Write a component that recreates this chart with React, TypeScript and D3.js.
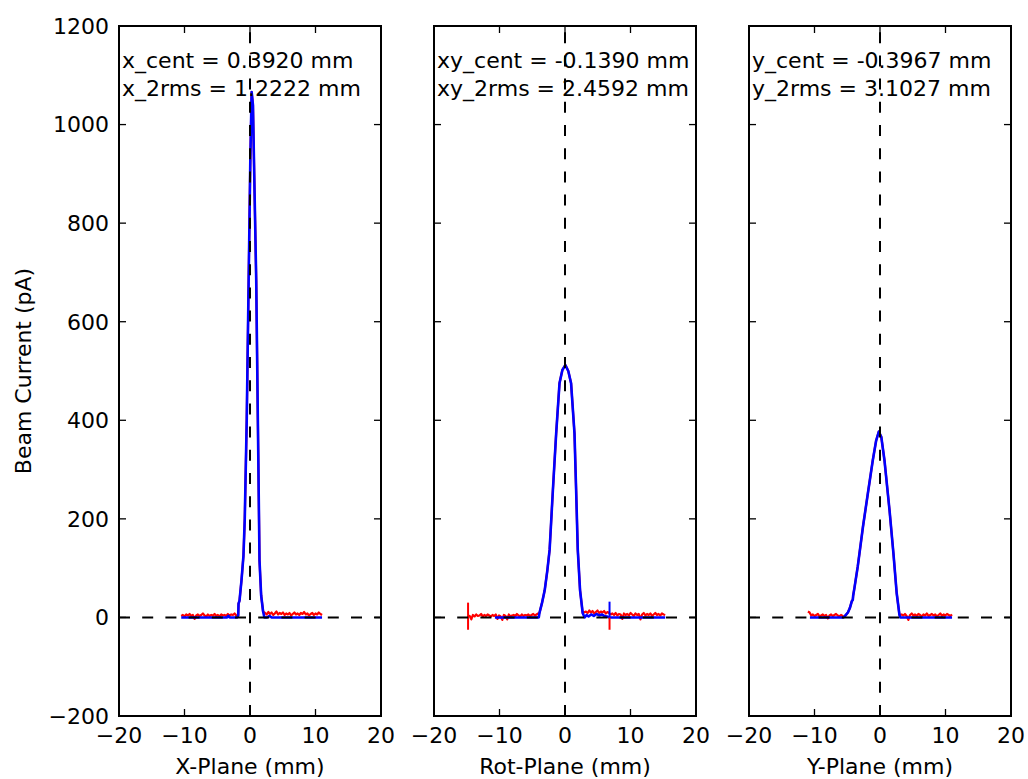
import React from "react";
import * as d3 from "d3";

// ---- tick values & labels ----
const xTicks = [-20, -10, 0, 10, 20];
const yTicks = [-200, 0, 200, 400, 600, 800, 1000, 1200];
const planeLabels = ["X-Plane (mm)", "Rot-Plane (mm)", "Y-Plane (mm)"];
const centLabels = ["x_cent = 0.3920 mm", "xy_cent = -0.1390 mm", "y_cent = -0.3967 mm"];
const rmsLabels = ["x_2rms = 1.2222 mm", "xy_2rms = 2.4592 mm", "y_2rms = 3.1027 mm"];
const yAxisLabel = "Beam Current (pA)";

// ---- X-plane ----
const xPeak: [number, number][] = [
  [-2.0, 0], [-1.8, 4], [-1.75, 28], [-1.6, 34], [-1.45, 55], [-1.3, 75], [-1.15, 100],
  [-1.0, 125], [-0.8, 200], [-0.5, 400], [-0.2, 690], [0.05, 930], [0.25, 1066],
  [0.45, 1040], [0.7, 860], [0.95, 684], [1.2, 400], [1.45, 116], [1.7, 45], [2.0, 12], [2.2, 0],
];
const xNoiseLeft = { from: -10.5, to: -2.1, values: [3, 5, 2, 6, 4, 7, 3, 5, -3, 4, 6, 3, 5, 8, 4, 2, 6, 3, 5, 4, 7, 3, 5, 2, 6, 4, 5, 3, 7, 4, 6, 5, 8, 4] };
const xNoiseRight = { from: 2.3, to: 11, values: [9, 6, 11, 7, 10, 5, 8, 12, 6, 9, 7, 10, 5, 8, 6, 9, 4, 7, 10, 6, 8, 5, 9, 7, 11, 6, 8, 4, 7, 9, 5, 8, 6, 10, 7, 5] };
const xBlueLeft: [number, number][] = [[-10.5, 0], [-3.5, 0], [-3.3, 3], [-3.1, 0]];
const xBlueRight: [number, number][] = [[2.6, 0], [3.0, 3], [3.3, 0], [11, 0]];

// ---- Rot-plane ----
const rotPeak: [number, number][] = [
  [-4.0, 0], [-3.9, 9], [-3.5, 30], [-3.1, 55], [-2.7, 95], [-2.35, 137], [-1.85, 258],
  [-1.35, 373], [-0.84, 475], [-0.4, 502], [0.05, 512], [0.5, 500], [0.93, 475],
  [1.45, 373], [1.7, 258], [1.95, 137], [2.3, 55], [2.7, 9], [3.0, 0],
];
const rotNoiseLeft = { from: -14.8, to: -4.1, values: [4, 3, -4, 5, 2, 6, 3, 4, 7, 2, 5, 3, 6, 4, 2, 5, 3, 6, -3, 4, 2, -5, 5, 3, -4, 6, 2, 4, 5, 3, 7, 4, 2, 6, 3, 5, 4, 6, 3, 5, 7, 4, 6, 8] };
const rotNoiseRight = { from: 3.2, to: 15.3, values: [12, 9, 14, 10, 13, 8, 11, 14, 9, 12, 10, 13, 8, 11, 9, 6, 8, 5, 9, 4, 7, 6, -3, 8, 5, 7, 4, 9, 6, 3, 8, 5, 7, -4, 6, 9, 4, 7, 5, 8, 3, 6, 9, 5, 7, 4, 8, 6, 5] };
const rotBlueLeft: [number, number][] = [[-10.7, 0]];
const rotBlueRight: [number, number][] = [
  [3.3, 5], [3.6, 2], [4.0, 6], [4.4, 3], [4.8, 7], [5.2, 4], [5.6, 6], [6.0, 3], [6.4, 2], [6.7, 0], [15.3, 0],
];
const rotSpikes = [
  { x: -14.8, top: 30, bottom: -25, color: "red" },
  { x: 6.8, top: 0, bottom: -25, color: "red" },
  { x: 6.8, top: 32, bottom: 0, color: "blue" },
];

// ---- Y-plane ----
const yPeak: [number, number][] = [
  [-5.6, 0], [-5.4, 2], [-4.9, 10], [-4.6, 19], [-4.3, 33], [-4.15, 36], [-4.1, 44], [-3.9, 60],
  [-3.4, 103], [-2.6, 184], [-1.85, 252], [-1.1, 319], [-0.6, 358], [-0.18, 377], [0.2, 366],
  [0.68, 319], [1.45, 218], [2.05, 130], [2.55, 49], [2.97, 5], [3.1, 0],
];
const yNoiseLeft = { from: -11, to: -5.7, values: [12, 10, 4, 6, 3, 5, 7, 2, 4, 6, 3, 5, -2, 4, 6, 3, 5, 7, 4, 2, 5, 3] };
const yNoiseRight = { from: 3.3, to: 11, values: [6, 4, 7, 3, -5, 5, 8, 4, 6, 3, 7, 5, 2, 6, 4, 8, 3, 5, 7, 4, 6, 2, 5, 8, 3, 6, 4, 7, 5, 3, 6] };
const yBlueLeft: [number, number][] = [[-10.7, 0]];
const yBlueRight: [number, number][] = [[11, 0]];

type Noise = { from: number; to: number; values: number[] };
const noisePts = (n: Noise): [number, number][] =>
  n.values.map((v, i) => [n.from + ((n.to - n.from) * i) / (n.values.length - 1), v]);

const panels = [
  { peak: xPeak, nl: xNoiseLeft, nr: xNoiseRight, bl: xBlueLeft, br: xBlueRight, spikes: [] as typeof rotSpikes },
  { peak: rotPeak, nl: rotNoiseLeft, nr: rotNoiseRight, bl: rotBlueLeft, br: rotBlueRight, spikes: rotSpikes },
  { peak: yPeak, nl: yNoiseLeft, nr: yNoiseRight, bl: yBlueLeft, br: yBlueRight, spikes: [] as typeof rotSpikes },
];

const W = 1028;
const H = 779;
const TOP = 26;
const BOTTOM = 716;
const PW = 262;
const LEFTS = [119, 434, 749];
const FONT = "DejaVu Sans";
const FS = 22;
const TICK = 7;

const y = d3.scaleLinear().domain([-200, 1200]).range([BOTTOM, TOP]);

function Panel({ i }: { i: number }) {
  const p = panels[i];
  const left = LEFTS[i];
  const x = d3.scaleLinear().domain([-20, 20]).range([left, left + PW]);
  const line = d3.line<[number, number]>().x((d) => x(d[0])).y((d) => y(d[1]));
  const red = [...noisePts(p.nl), ...p.peak.slice(1, -1), ...noisePts(p.nr)];
  const blue = [...p.bl, ...p.peak, ...p.br];
  const clipId = `clip${i}`;
  return (
    <g>
      <defs>
        <clipPath id={clipId}>
          <rect x={left} y={TOP} width={PW} height={BOTTOM - TOP} />
        </clipPath>
      </defs>
      <g clipPath={`url(#${clipId})`}>
        <path d={line(red) || ""} fill="none" stroke="#ff0000" strokeWidth={2.2} strokeLinejoin="round" />
        <path d={line(blue) || ""} fill="none" stroke="#0000ff" strokeWidth={2.6} strokeLinejoin="round" />
        {p.spikes.map((s, k) => (
          <line key={k} x1={x(s.x)} x2={x(s.x)} y1={y(s.top)} y2={y(s.bottom)} stroke={s.color === "red" ? "#ff0000" : "#0000ff"} strokeWidth={2} />
        ))}
        <line x1={x(0)} x2={x(0)} y1={BOTTOM} y2={TOP} stroke="black" strokeWidth={2} strokeDasharray="11,12.2" />
        <line x1={left} x2={left + PW} y1={y(0)} y2={y(0)} stroke="black" strokeWidth={2} strokeDasharray="11,12.2" />
      </g>
      {/* ticks */}
      {xTicks.map((t) => (
        <g key={`xt${t}`}>
          <line x1={x(t)} x2={x(t)} y1={BOTTOM} y2={BOTTOM - TICK} stroke="black" strokeWidth={1.3} />
          <line x1={x(t)} x2={x(t)} y1={TOP} y2={TOP + TICK} stroke="black" strokeWidth={1.3} />
          <text x={x(t)} y={743} textAnchor="middle" fontFamily={FONT} fontSize={FS}>
            {t < 0 ? `\u2212${Math.abs(t)}` : `${t}`}
          </text>
        </g>
      ))}
      {yTicks.map((t) => (
        <g key={`yt${t}`}>
          <line x1={left} x2={left + TICK} y1={y(t)} y2={y(t)} stroke="black" strokeWidth={1.3} />
          <line x1={left + PW} x2={left + PW - TICK} y1={y(t)} y2={y(t)} stroke="black" strokeWidth={1.3} />
          {i === 0 && (
            <text x={left - 10} y={y(t)} dy="0.36em" textAnchor="end" fontFamily={FONT} fontSize={FS}>
              {t < 0 ? `\u2212${Math.abs(t)}` : `${t}`}
            </text>
          )}
        </g>
      ))}
      <rect x={left} y={TOP} width={PW} height={BOTTOM - TOP} fill="none" stroke="black" strokeWidth={2} />
      <text x={left + 3} y={68} fontFamily={FONT} fontSize={FS}>{centLabels[i]}</text>
      <text x={left + 3} y={96} fontFamily={FONT} fontSize={FS}>{rmsLabels[i]}</text>
      <text x={left + PW / 2} y={774} textAnchor="middle" fontFamily={FONT} fontSize={FS}>{planeLabels[i]}</text>
    </g>
  );
}

export default function App() {
  return (
    <svg width={W} height={H} style={{ position: "absolute", left: 0, top: 0, background: "white" }}>
      <rect x={0} y={0} width={W} height={H} fill="white" />
      {[0, 1, 2].map((i) => (
        <Panel key={i} i={i} />
      ))}
      <text transform={`translate(31,${(TOP + BOTTOM) / 2}) rotate(-90)`} textAnchor="middle" fontFamily={FONT} fontSize={FS}>
        {yAxisLabel}
      </text>
    </svg>
  );
}
